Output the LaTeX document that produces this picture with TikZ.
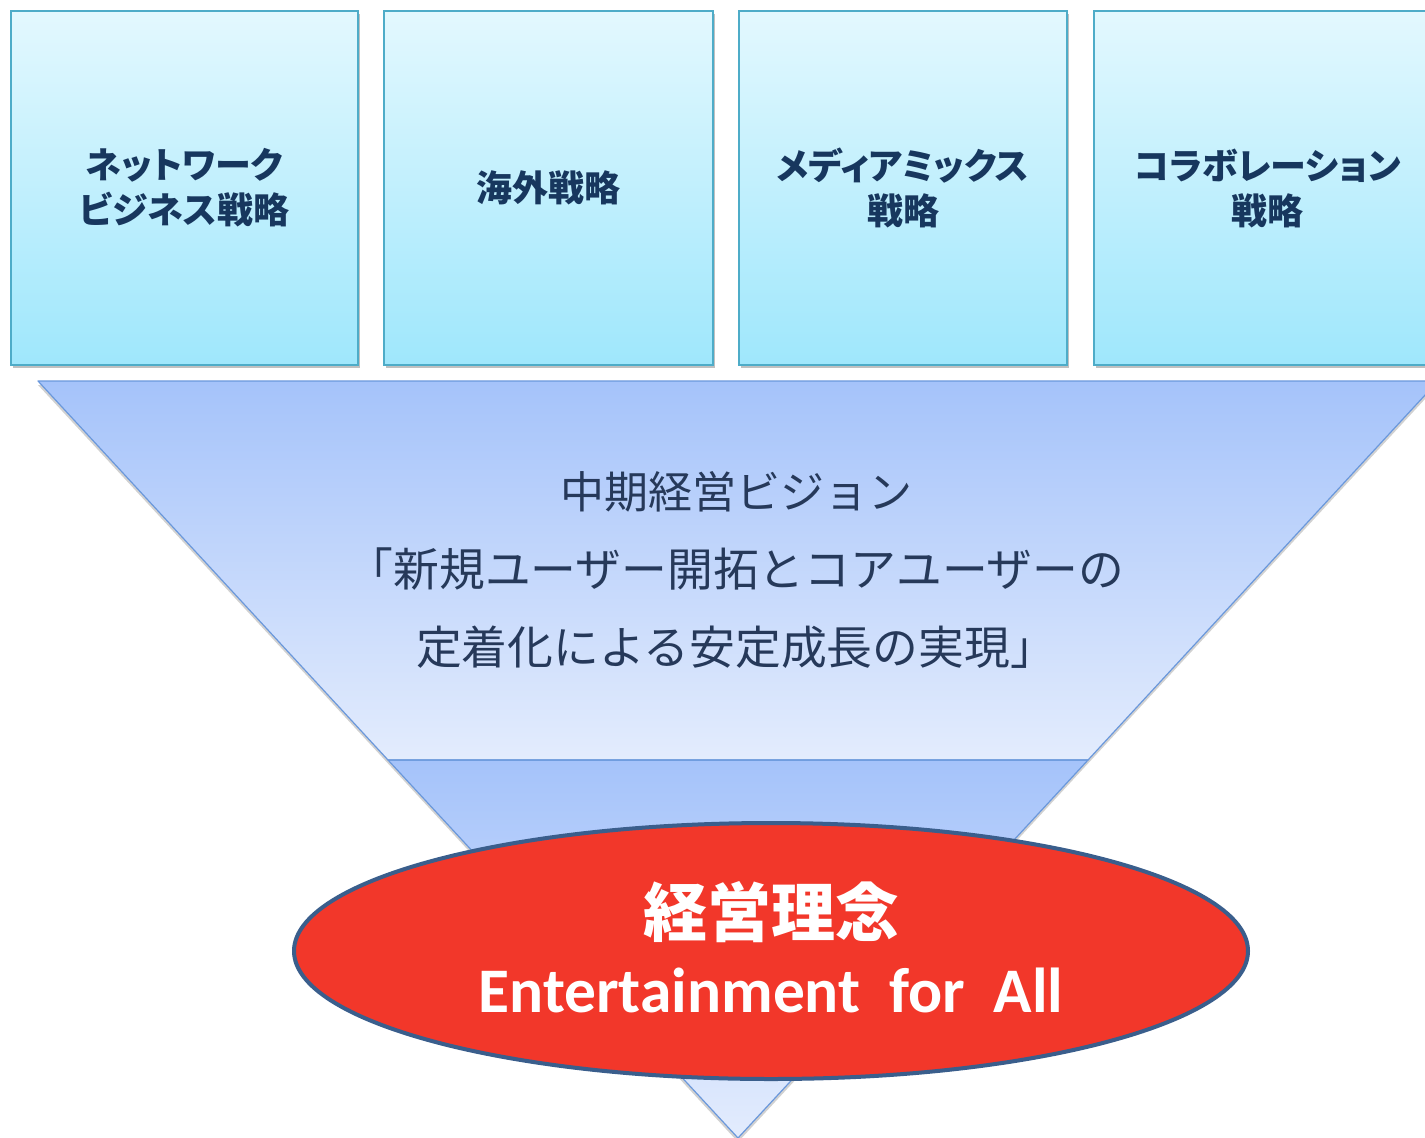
\documentclass[tikz,border=0pt]{standalone}
\usepackage{fontspec}
\setmainfont{Carlito}
\newfontfamily\jp{Noto Sans CJK JP}
\newfontfamily\jpp{Noto Sans CJK JP}[RawFeature=+palt]
\usetikzlibrary{shapes.geometric,shadows}
\definecolor{boxtop}{HTML}{E3F8FE}
\definecolor{boxbot}{HTML}{9FE7FC}
\definecolor{boxline}{HTML}{4EACC8}
\definecolor{boxtext}{HTML}{17375E}
\definecolor{tritop}{HTML}{A5C3FA}
\definecolor{tribot}{HTML}{E3ECFD}
\definecolor{triline}{HTML}{6A98DC}
\definecolor{midtext}{HTML}{26395A}
\definecolor{corefill}{HTML}{F2372A}
\definecolor{coreline}{HTML}{3A5E8C}
\tikzset{
  stratbox/.style={rectangle, minimum width=347pt, minimum height=354pt, inner sep=0pt,
    top color=boxtop, bottom color=boxbot, draw=boxline, line width=1.6pt,
    drop shadow={shadow xshift=2pt, shadow yshift=-3pt, opacity=0.35, fill=black!70},
    align=center, text=boxtext, font=\jpp\bfseries\fontsize{36}{45}\selectfont},
  band/.style={top color=tritop, bottom color=tribot},
  bandline/.style={draw=triline, line width=1.2pt, line join=round},
  visiontext/.style={align=center, text=midtext, font=\jp\fontsize{45.8}{78}\selectfont},
  coreshape/.style={ellipse, minimum width=954pt, minimum height=256pt, inner sep=0pt,
    fill=corefill, draw=coreline, line width=4pt},
  coretext/.style={text=white, inner sep=0pt}
}
\begin{document}
\begin{tikzpicture}[x=1pt,y=-1pt]
\useasboundingbox (0,0) rectangle (1425,1138);
\clip (0,0) rectangle (1425,1138);
\fill[white] (0,0) rectangle (1425,1138);
% triangle
\coordinate (TL) at (38,381);
\coordinate (TR) at (1438,381);
\coordinate (ML) at (388,760);
\coordinate (MR) at (1088,760);
\coordinate (AP) at (738,1138);
\fill[black, opacity=0.18] ([yshift=-4pt]TL) -- ([yshift=-4pt]TR) -- ([yshift=-4pt]AP) -- cycle;
\shade[band] (TL) -- (TR) -- (MR) -- (ML) -- cycle;
\shade[band] (ML) -- (MR) -- (AP) -- cycle;
\draw[bandline] (TL) -- (TR) -- (MR) -- (ML) -- cycle;
\draw[bandline] (ML) -- (MR) -- (AP) -- cycle;
% boxes
\node[stratbox] (b1) at (184.5,188) {ネットワーク\\ビジネス戦略};
\node[stratbox, minimum width=329pt] (b2) at (548.5,188) {海外戦略};
\node[stratbox, minimum width=328pt] (b3) at (903,188) {メディアミックス\\戦略};
\node[stratbox] (b4) at (1267.5,188) {コラボレーション\\戦略};
% vision
\node[visiontext] (vision) at (736,570) {{\fontsize{44}{78}\selectfont 中期経営ビジョン}\\「新規ユーザー開拓とコアユーザーの\\定着化による安定成長の実現」};
% core
\node[coreshape] (core) at (771,951) {};
\node[coretext, font=\jp\bfseries\fontsize{64}{64}\selectfont] (rinen) at (771,912) {経営理念};
\node[coretext, anchor=base, font=\bfseries\fontsize{63.5}{63.5}\selectfont] (ent) at (771,1012) {Entertainment\ \ for\ \ All};
\end{tikzpicture}
\end{document}
